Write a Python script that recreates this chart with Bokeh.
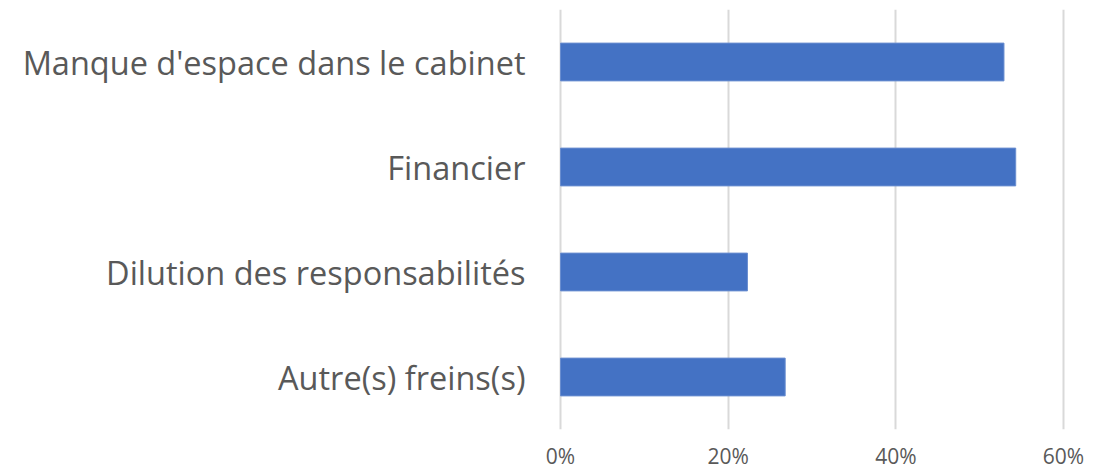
from bokeh.plotting import figure
from bokeh.models import FactorRange, Range1d, FixedTicker, NumeralTickFormatter
from bokeh.embed import file_html
from bokeh.resources import INLINE

categories = ["Manque d'espace dans le cabinet", "Financier", "Dilution des responsabilités", "Autre(s) freins(s)"]
values = [0.529, 0.543, 0.223, 0.268]
ticks = [0, 0.2, 0.4, 0.6]

p = figure(width=1107, height=472, output_backend="svg", toolbar_location=None,
           y_range=FactorRange(factors=list(reversed(categories))),
           x_range=Range1d(-0.0024, 0.6024))
p.min_border_left = 558
p.min_border_right = 42
p.min_border_top = 9
p.min_border_bottom = 42
p.outline_line_color = None

p.hbar(y=categories, right=values, left=0, height=0.36,
       fill_color="#4472C4", line_color="#6A8ED0", line_width=1)

p.xaxis.ticker = FixedTicker(ticks=ticks)
p.xaxis.formatter = NumeralTickFormatter(format="0%")
p.xaxis.axis_line_color = None
p.xaxis.major_tick_line_color = None
p.xaxis.minor_tick_line_color = None
p.xaxis.major_label_text_font = "Open Sans"
p.xaxis.major_label_text_font_size = "21px"
p.xaxis.major_label_text_color = "#595959"
p.xaxis.major_label_standoff = 6

p.yaxis.axis_line_color = None
p.yaxis.major_tick_line_color = None
p.yaxis.minor_tick_line_color = None
p.yaxis.major_label_text_font = "Open Sans"
p.yaxis.major_label_text_font_size = "32.5px"
p.yaxis.major_label_text_color = "#595959"
p.yaxis.major_label_standoff = 27

p.xgrid.grid_line_color = "#D9D9D9"
p.xgrid.grid_line_width = 2
p.ygrid.grid_line_color = None

open("out.html", "w").write(file_html(p, INLINE))
